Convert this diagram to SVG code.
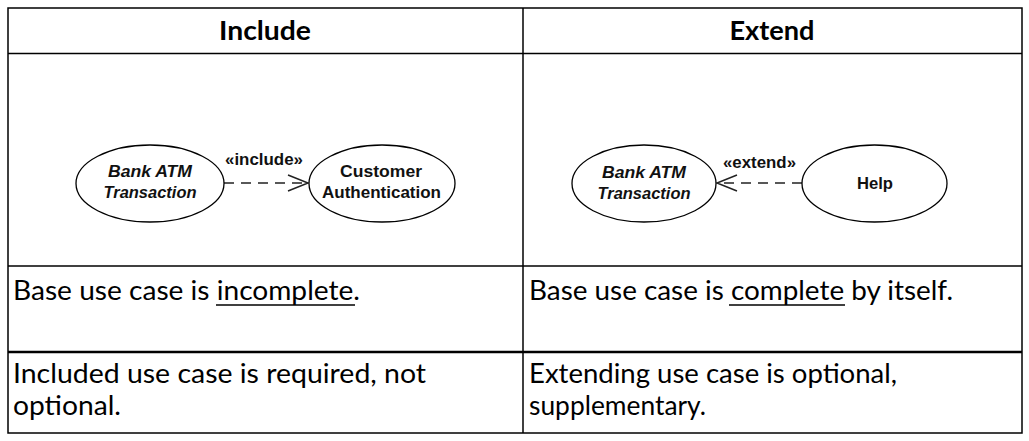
<svg xmlns="http://www.w3.org/2000/svg" width="1029" height="441" viewBox="0 0 1029 441">
<defs>
<style>
.grid{stroke:#000;stroke-width:1.5;fill:none}
.thick{stroke:#000;stroke-width:2.5;fill:none}
.hdr{font-family:Lato,"Open Sans","Liberation Sans",sans-serif;font-weight:bold;font-size:27px;fill:#000;text-anchor:middle}
.body{font-family:Lato,"Open Sans","Liberation Sans",sans-serif;font-size:26px;fill:#000}
.ul{stroke:#000;stroke-width:1.3}
.uc{fill:#fff;stroke:#000;stroke-width:1.3}
.lbl{font-family:"Liberation Sans",Arial,sans-serif;font-weight:bold;font-size:17px;fill:#111;text-anchor:middle}
.it{font-style:italic}
.dash{stroke:#222;stroke-width:1.5;stroke-dasharray:10 7;fill:none}
.head{stroke:#222;stroke-width:1.5;fill:none}
</style>
</defs>
<rect width="1029" height="441" fill="#fff"/>
<g id="table">
<rect class="grid" x="8" y="8" width="1014" height="425"/>
<line class="grid" x1="523" y1="8" x2="523" y2="433"/>
<line class="grid" x1="8" y1="53.5" x2="1022" y2="53.5"/>
<line class="grid" x1="8" y1="266" x2="1022" y2="266"/>
<line class="thick" x1="8" y1="352" x2="1022" y2="352"/>
</g>
<g id="headers">
<text class="hdr" x="265" y="40" textLength="92" lengthAdjust="spacingAndGlyphs">Include</text>
<text class="hdr" x="772" y="40" textLength="85" lengthAdjust="spacingAndGlyphs">Extend</text>
</g>
<g id="connectors">
<line class="dash" x1="224" y1="183" x2="306" y2="183"/>
<polyline class="head" points="288,175 308,183 288,191"/>
<line class="dash" x1="802" y1="183" x2="719" y2="183"/>
<polyline class="head" points="737,175 717,183 737,191"/>
<text class="lbl" x="264" y="165" textLength="78" lengthAdjust="spacingAndGlyphs">«include»</text>
<text class="lbl" x="759.5" y="168" textLength="73" lengthAdjust="spacingAndGlyphs">«extend»</text>
</g>
<g id="inc-base">
<ellipse class="uc" cx="150" cy="183.5" rx="74" ry="38.5"/>
<text class="lbl it" x="150" y="177" textLength="84" lengthAdjust="spacingAndGlyphs">Bank ATM</text>
<text class="lbl it" x="150" y="198" textLength="93" lengthAdjust="spacingAndGlyphs">Transaction</text>
</g>
<g id="inc-auth">
<ellipse class="uc" cx="382" cy="183.5" rx="73" ry="38.5"/>
<text class="lbl" x="381" y="177" textLength="82" lengthAdjust="spacingAndGlyphs">Customer</text>
<text class="lbl" x="381.5" y="198" textLength="119" lengthAdjust="spacingAndGlyphs">Authentication</text>
</g>
<g id="ext-base">
<ellipse class="uc" cx="644" cy="183.5" rx="72" ry="38.5"/>
<text class="lbl it" x="644" y="178" textLength="84" lengthAdjust="spacingAndGlyphs">Bank ATM</text>
<text class="lbl it" x="644" y="199" textLength="93" lengthAdjust="spacingAndGlyphs">Transaction</text>
</g>
<g id="ext-help">
<ellipse class="uc" cx="874.5" cy="183.5" rx="72.5" ry="38.5"/>
<text class="lbl" x="875" y="189" textLength="36" lengthAdjust="spacingAndGlyphs">Help</text>
</g>
<g id="texts">
<text class="body" x="13" y="300" textLength="347" lengthAdjust="spacingAndGlyphs">Base use case is incomplete.</text>
<line class="ul" x1="216" y1="305" x2="355" y2="305"/>
<text class="body" x="529" y="300" textLength="424" lengthAdjust="spacingAndGlyphs">Base use case is complete by itself.</text>
<line class="ul" x1="729" y1="305" x2="845" y2="305"/>
<text class="body" x="13" y="383" textLength="413" lengthAdjust="spacingAndGlyphs">Included use case is required, not</text>
<text class="body" x="13" y="415" textLength="108" lengthAdjust="spacingAndGlyphs">optional.</text>
<text class="body" x="529" y="383" textLength="368" lengthAdjust="spacingAndGlyphs">Extending use case is optional,</text>
<text class="body" x="529" y="415" textLength="177" lengthAdjust="spacingAndGlyphs">supplementary.</text>
</g>
</svg>
